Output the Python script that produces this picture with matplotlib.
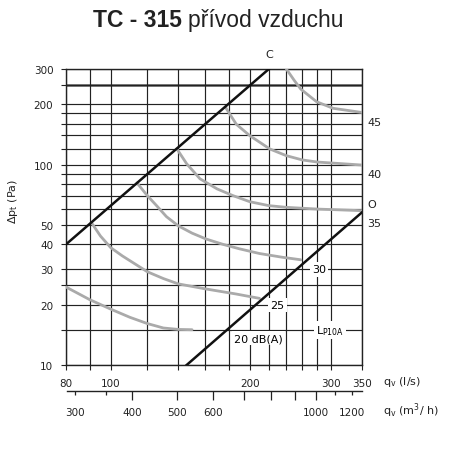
import matplotlib
matplotlib.use('Agg')
import matplotlib.pyplot as plt

plt.rcParams['font.family'] = ['DejaVu Sans']
plt.rcParams['mathtext.default'] = 'regular'

# grid of the nomogram (l/s and Pa)
x_major = [80, 100, 200, 300, 350]
x_minor = [90, 120, 140, 160, 180, 220, 240, 260, 280]
y_major = [10, 20, 30, 40, 50, 100, 200, 300]
y_minor = [15, 25, 60, 70, 80, 90, 120, 140, 160, 180, 250]
y_heavy = 250

# second flow scale in m3/h
m3h_long = [400, 500, 600, 700, 800, 900, 1000]
m3h_short = [300, 350, 1100, 1200]
m3h_labels = [300, 400, 500, 600, 1000, 1200]

# C and O black lines
c_q = [80, 220]
c_p = [40, 300]
o_q = [146, 350]
o_p = [10, 57.8]

# noise curves L_P10A (gray)
q20 = [80, 90, 100, 110, 120, 130, 140, 150]
p20 = [24.5, 21.2, 19.0, 17.3, 16.1, 15.3, 15.05, 15.0]
q25 = [91, 95, 100, 106, 112, 120, 130, 140, 160, 187, 210]
p25 = [51, 44, 38.5, 35, 32.3, 29.2, 27, 25.4, 24, 22.6, 21.5]
q30 = [114, 120, 126, 132, 140, 150, 161, 175, 190, 210, 235, 258]
p30 = [81, 70, 62, 55, 49.5, 45.5, 42.5, 40, 38, 36, 34.5, 33.5]
q35 = [139, 146, 156, 170, 184, 200, 220, 240, 280, 350]
p35 = [120, 101, 85, 75.6, 70, 65.3, 62.4, 61.2, 60, 58.9]
q40 = [177, 187, 200, 221, 240, 260, 280, 350]
p40 = [194, 159, 139.5, 119.7, 110.8, 105.5, 103, 99.5]
q45 = [240, 250, 258, 279, 303, 350]
p45 = [300, 262, 238, 206, 191, 182]

# label positions
right_labels = ['45', '40', 'O', '35']
right_label_p = [164, 90, 63.6, 51]

fig = plt.figure(figsize=(4.66, 4.6), dpi=100)
W, H = 466, 460
ax = fig.add_axes([66 / W, (H - 366) / H, 296 / W, 296 / H])
ax.set_xscale('log')
ax.set_yscale('log')
ax.set_xlim(80, 350)
ax.set_ylim(10, 300)

ax.set_xticks(x_major, labels=[str(v) for v in x_major])
ax.set_xticks(x_minor, labels=[''] * len(x_minor), minor=True)
ax.set_yticks(y_major, labels=[str(v) for v in y_major])
ax.set_yticks(y_minor, labels=[''] * len(y_minor), minor=True)
ax.tick_params(which='both', direction='out', length=3.6, width=0.8,
               color='#222222', labelsize=7.5, labelcolor='#222222')
ax.tick_params(axis='x', which='both', pad=6)
ax.tick_params(axis='y', which='both', pad=5.5)
ax.grid(which='both', color='#222222', lw=0.85)
ax.axhline(y_heavy, color='#555555', lw=1.8, zorder=1.5)
for s in ax.spines.values():
    s.set_color('#222222')
    s.set_linewidth(1.0)

gray = '#aaaaaa'
for q, p in [(q20, p20), (q25, p25), (q30, p30), (q35, p35), (q40, p40), (q45, p45)]:
    ax.plot(q, p, color=gray, lw=2.0, solid_capstyle='round', zorder=3)

ax.plot(c_q, c_p, color='#111111', lw=1.8, zorder=4)
ax.plot(o_q, o_p, color='#111111', lw=1.8, zorder=4)

box = dict(facecolor='white', edgecolor='none', pad=1.5)
ax.text(283, 30, '30', fontsize=8, ha='center', va='center', bbox=box, zorder=5)
ax.text(229.5, 20, '25', fontsize=8, ha='center', va='center', bbox=box, zorder=5)
ax.text(298, 15, r'L$_{P10A}$', fontsize=8, ha='center', va='center', bbox=box, zorder=5)
ax.text(209, 13.6, '20 dB(A)', fontsize=8, ha='center', va='center', bbox=box, zorder=5)

ty = ax.get_yaxis_transform()
for lab, p in zip(right_labels, right_label_p):
    ax.text(1.017, p, lab, transform=ty, fontsize=8, ha='left', va='center', color='#222222')
ax.text(220, 1.051, 'C', transform=ax.get_xaxis_transform(), fontsize=8,
        ha='center', va='center', color='#222222')

fig.text(13 / W, 1 - 202 / H, r'$\Delta p_t$ (Pa)', fontsize=8, rotation=90,
         ha='center', va='center', color='#222222')
fig.text(383 / W, 1 - 381.7 / H, r'$q_v$ (l/s)', fontsize=8, va='center', color='#222222')

# secondary m3/h scale
ax2 = fig.add_axes([66.5 / W, (H - 392.3) / H, 295.5 / W, 0.0001])
ax2.set_xscale('log')
ax2.set_xlim(80 * 3.6, 350 * 3.6)
ax2.patch.set_visible(False)
for k in ['top', 'left', 'right']:
    ax2.spines[k].set_visible(False)
ax2.spines['bottom'].set_color('#222222')
ax2.spines['bottom'].set_linewidth(1.0)
ax2.set_yticks([])
ax2.set_xticks(m3h_long, labels=[str(v) if v in m3h_labels else '' for v in m3h_long])
ax2.set_xticks(m3h_short, labels=[str(v) if v in m3h_labels else '' for v in m3h_short], minor=True)
ax2.tick_params(which='major', direction='out', length=6.5, width=0.9, pad=4.5,
                labelsize=7.5, color='#222222', labelcolor='#222222')
ax2.tick_params(which='minor', direction='out', length=3.2, width=0.9, pad=7.8,
                labelsize=7.5, color='#222222', labelcolor='#222222')
fig.text(383 / W, 1 - 410.7 / H, r'$q_v$ (m$^3$/ h)', fontsize=8, va='center', color='#222222')

# title
fig.text(93 / W, 1 - 26.7 / H, 'TC - 315', fontsize=16.5, fontweight='bold',
         family='Liberation Sans', va='baseline', color='#222222')
fig.text(188 / W, 1 - 26.7 / H, 'přívod vzduchu', fontsize=16.5,
         family='Liberation Sans', va='baseline', color='#222222')

fig.savefig('out.png', dpi=100)
